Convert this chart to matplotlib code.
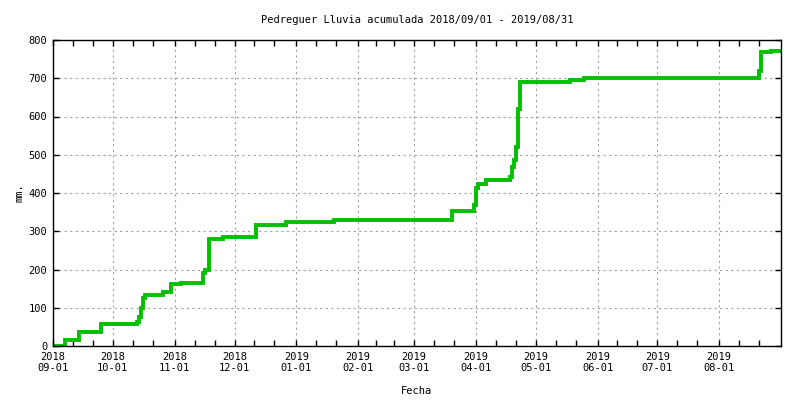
import matplotlib
matplotlib.use('Agg')
import matplotlib.pyplot as plt
import numpy as np
import datetime as dt

START = dt.date(2018, 9, 1)

# day offset from 2018-09-01 -> accumulated rain (mm) from that day on
days = [0, 6, 13, 24, 42, 43, 44, 45, 46, 55, 59, 64, 75, 76, 78, 85,
        102, 117, 141, 200, 211, 212, 213, 217, 229, 230, 231, 232, 233,
        234, 259, 266, 354, 355, 360, 365]
rain = [0, 15, 36, 57, 63, 75, 100, 125, 133, 142, 161, 165, 190, 199, 281, 285,
        316, 323, 330, 353, 369, 412, 423, 434, 443, 469, 486, 521, 620,
        691, 695, 701, 720, 768, 770, 770]

month_ticks = ['2018-09-01', '2018-10-01', '2018-11-01', '2018-12-01', '2019-01-01',
               '2019-02-01', '2019-03-01', '2019-04-01', '2019-05-01', '2019-06-01',
               '2019-07-01', '2019-08-01']

title = 'Pedreguer Lluvia acumulada 2018/09/01 - 2019/08/31'

dates = [START + dt.timedelta(days=d) for d in days]

plt.rcParams['font.family'] = 'DejaVu Sans Mono'
plt.rcParams['font.size'] = 7.5

fig = plt.figure(figsize=(8, 4), dpi=100)
ax = fig.add_axes([53/800, 1-346/400, 728/800, 306/400])

ax.plot(dates, rain, drawstyle='steps-post', color='#00c000', lw=2.8, solid_joinstyle='miter')

ax.set_xlim(START, START + dt.timedelta(days=365))
ax.set_ylim(0, 800)

tick_dates = [dt.date.fromisoformat(t) for t in month_ticks]
ax.set_xticks(tick_dates)
ax.set_xticklabels([t[:4] + '\n' + t[5:] for t in month_ticks])
# minor ticks at thirds of each month
minor = []
bounds = tick_dates + [dt.date(2019, 9, 1)]
for a, b in zip(bounds[:-1], bounds[1:]):
    n = (b - a).days
    minor += [a + dt.timedelta(days=n/3), a + dt.timedelta(days=2*n/3)]
ax.set_xticks(minor, minor=True)
ax.set_yticks(np.arange(0, 801, 100))

ax.tick_params(axis='both', which='both', direction='in', top=True, right=True,
               length=4, width=1, labelsize=7.5, pad=4)

ax.grid(True, which='major', color='#a0a0a0', linestyle=(0, (2, 3)), lw=0.8)
ax.set_axisbelow(True)
for s in ax.spines.values():
    s.set_linewidth(1.0)

ax.set_title(title, fontsize=7.5, pad=12)
ax.set_xlabel('Fecha', fontsize=7.5, labelpad=9)
ax.set_ylabel('mm.', fontsize=7.5, labelpad=3)

fig.savefig('out.png', dpi=100)
